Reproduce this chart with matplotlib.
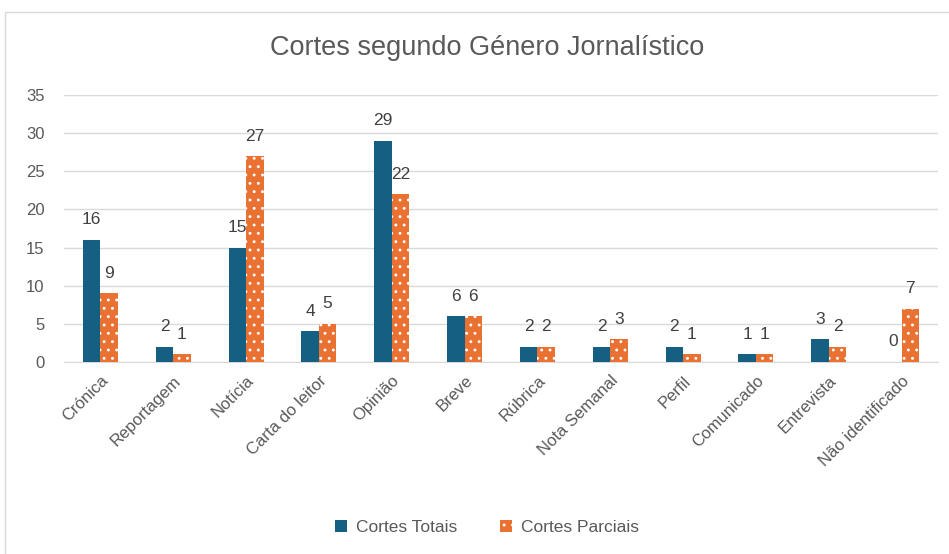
import matplotlib.pyplot as plt
import numpy as np
from matplotlib.patches import Rectangle

categories = ["Crónica", "Reportagem", "Notícia", "Carta do leitor", "Opinião", "Breve",
              "Rúbrica", "Nota Semanal", "Perfil", "Comunicado", "Entrevista", "Não identificado"]
cortes_totais = [16, 2, 15, 4, 29, 6, 2, 2, 2, 1, 3, 0]
cortes_parciais = [9, 1, 27, 5, 22, 6, 2, 3, 1, 1, 2, 7]

blue = "#156082"
orange = "#E97132"
grey = "#595959"

plt.rcParams['font.family'] = ['Liberation Sans', 'DejaVu Sans']
plt.rcParams['hatch.linewidth'] = 0.9

fig = plt.figure(figsize=(9.49, 5.54), dpi=100)
ax = fig.add_axes([64 / 949, 1 - 362 / 554, 874 / 949, 267 / 554])

# chart frame
fig.patches.append(Rectangle((5 / 949, -0.01), 1.0, 1 - 12 / 554 + 0.01, transform=fig.transFigure,
                             fill=False, edgecolor="#D9D9D9", linewidth=1))

x = np.arange(len(categories))
w = 0.24
b1 = ax.bar(x - w / 2, cortes_totais, w, color=blue, zorder=3)
b2 = ax.bar(x + w / 2, cortes_parciais, w, color=orange, hatch="..", edgecolor="white",
            linewidth=0, zorder=3)

for bars in (b1, b2):
    for r in bars:
        h = r.get_height()
        ax.annotate(f"{int(h)}", (r.get_x() + r.get_width() / 2, h), xytext=(0, 9),
                    textcoords="offset points", ha="center", va="bottom",
                    fontsize=12.5, color="#404040")

ax.set_ylim(0, 35)
ax.set_yticks(range(0, 36, 5))
ax.set_xlim(-0.5, len(categories) - 0.5)
ax.set_xticks(x)
ax.set_xticklabels(categories, rotation=45, ha="right", rotation_mode="anchor")
ax.tick_params(axis="both", length=0, labelsize=12, colors=grey)
ax.tick_params(axis="x", pad=8)
ax.tick_params(axis="y", pad=14)
ax.grid(axis="y", color="#D9D9D9", linewidth=1, zorder=0)
for s in ax.spines.values():
    s.set_visible(False)
ax.spines["bottom"].set_visible(True)
ax.spines["bottom"].set_color("#D9D9D9")

fig.text(0.513, 0.913, "Cortes segundo Género Jornalístico", ha="center", va="center",
         fontsize=19.5, color=grey)

leg = fig.legend([b1, b2], ["Cortes Totais", "Cortes Parciais"], loc="center",
                 bbox_to_anchor=(0.513, 0.048), ncol=2, frameon=False, fontsize=12.5,
                 handlelength=0.7, handleheight=0.7, columnspacing=2.5, handletextpad=0.5)
for t in leg.get_texts():
    t.set_color(grey)

fig.savefig("out.png", dpi=100)
